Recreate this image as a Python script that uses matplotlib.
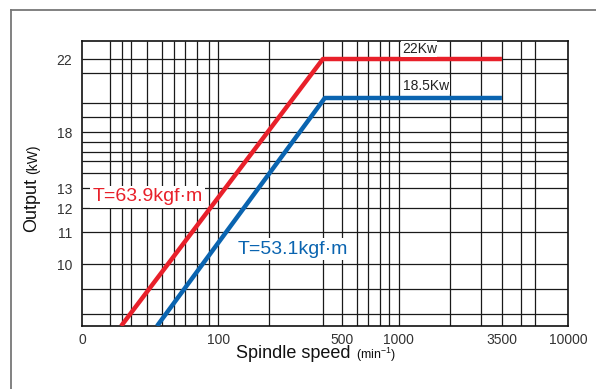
import numpy as np
import matplotlib.pyplot as plt
from matplotlib.lines import Line2D

plt.rcParams['font.family'] = ['Liberation Sans', 'DejaVu Sans']

# spindle speed (min-1) / output (kW)
speed_red = [19.4, 390, 3500]
power_red = [8, 22, 22]
speed_blue = [35.6, 400, 3500]
power_blue = [8, 18.5, 18.5]

x_ticks = [10, 100, 500, 1000, 3500, 10000]
x_ticklabels = ['0', '100', '500', '1000', '3500', '10000']
y_ticks = [10, 11, 12, 13, 18, 22]
y_ticklabels = ['10', '11', '12', '13', '18', '22']

# the printed chart is not to scale: piecewise axis (value -> axis fraction)
x_knots = np.log10([10, 100, 500, 1000, 3500, 10000])
x_frac = [0.0, 0.280, 0.535, 0.652, 0.864, 1.0]
y_knots = [8, 10, 11, 12, 13, 18, 18.5, 22, 24]
y_frac = [0.0, 0.2175, 0.3298, 0.414, 0.4842, 0.6807, 0.80, 0.9368, 1.0]


def fx(v):
    return np.interp(np.log10(np.clip(v, 1e-9, None)), x_knots, x_frac)


def fx_inv(p):
    return 10 ** np.interp(p, x_frac, x_knots)


def fy(v):
    return np.interp(v, y_knots, y_frac)


def fy_inv(p):
    return np.interp(p, y_frac, y_knots)


# hand drawn grid (axis fractions)
grid_x = [0.0576, 0.0823, 0.1008, 0.1337, 0.1646, 0.1893, 0.2119, 0.2366, 0.2613,
          0.2798, 0.3848, 0.4959, 0.5350, 0.5658, 0.5885, 0.6132, 0.6317, 0.6523,
          0.7572, 0.8210, 0.8642, 0.9033, 0.9321]
grid_y = [0.9368, 0.8877, 0.7825, 0.7333, 0.6807, 0.6456, 0.6105, 0.5789, 0.5368,
          0.4842, 0.4140, 0.3298, 0.2175, 0.1298, 0.0421]

red = '#e8202a'
blue = '#0a64b0'

fig = plt.figure(figsize=(5.96, 3.89), dpi=100)
ax = fig.add_axes([82 / 596, 63 / 389, 486 / 596, 285 / 389])
ax.set_xscale('function', functions=(fx, fx_inv))
ax.set_yscale('function', functions=(fy, fy_inv))
ax.set_xlim(10, 10000)
ax.set_ylim(8, 24)

ax.vlines(grid_x, 0, 1, transform=ax.transAxes, color='#1a1a1a', lw=0.9, zorder=1)
ax.hlines(grid_y, 0, 1, transform=ax.transAxes, color='#1a1a1a', lw=0.9, zorder=1)

ax.plot(speed_red, power_red, color=red, lw=3.2, solid_capstyle='butt', zorder=3)
ax.plot(speed_blue, power_blue, color=blue, lw=3.2, solid_capstyle='butt', zorder=3)

ax.set_xticks(x_ticks)
ax.set_xticklabels(x_ticklabels)
ax.set_yticks(y_ticks)
ax.set_yticklabels(y_ticklabels)
ax.minorticks_off()
ax.tick_params(length=0, labelsize=10, colors='#333333')
ax.tick_params(axis='x', pad=5)
ax.tick_params(axis='y', pad=7)
for s in ax.spines.values():
    s.set_linewidth(1.2)
    s.set_color('#111111')

box = dict(facecolor='white', edgecolor='none', pad=1.5)
ax.text(0.021, 0.453, 'T=63.9kgf\u00b7m', color=red, fontsize=14, ha='left',
        va='center', transform=ax.transAxes, bbox=box, zorder=4)
ax.text(0.321, 0.270, 'T=53.1kgf\u00b7m', color=blue, fontsize=14, ha='left',
        va='center', transform=ax.transAxes, bbox=box, zorder=4)
ax.text(0.658, 0.972, '22Kw', color='#222222', fontsize=10, ha='left',
        va='center', transform=ax.transAxes, bbox=dict(facecolor='white', edgecolor='none', pad=0.5), zorder=4)
ax.text(0.660, 0.842, '18.5Kw', color='#222222', fontsize=10, ha='left',
        va='center', transform=ax.transAxes, bbox=dict(facecolor='white', edgecolor='none', pad=0.5), zorder=4)

# axis titles
fig.text(236 / 596, 1 - 354 / 389, 'Spindle speed', fontsize=13, ha='left', va='center', color='#111111')
fig.text(356 / 596, 1 - 355 / 389, '(min$^{\\mathregular{-1}}$)', fontsize=9, ha='left', va='center', color='#111111')
fig.text(32 / 596, 1 - 232 / 389, 'Output', fontsize=13, rotation=90, ha='center', va='bottom', color='#111111')
fig.text(33 / 596, 1 - 174 / 389, '(kW)', fontsize=10, rotation=90, ha='center', va='bottom', color='#111111')

# outer frame
fig.add_artist(Line2D([11 / 596, 11 / 596], [0, 1 - 10 / 389], color='#777777', lw=1.3))
fig.add_artist(Line2D([11 / 596, 1], [1 - 10 / 389, 1 - 10 / 389], color='#777777', lw=1.3))

fig.savefig('out.png', dpi=100)
